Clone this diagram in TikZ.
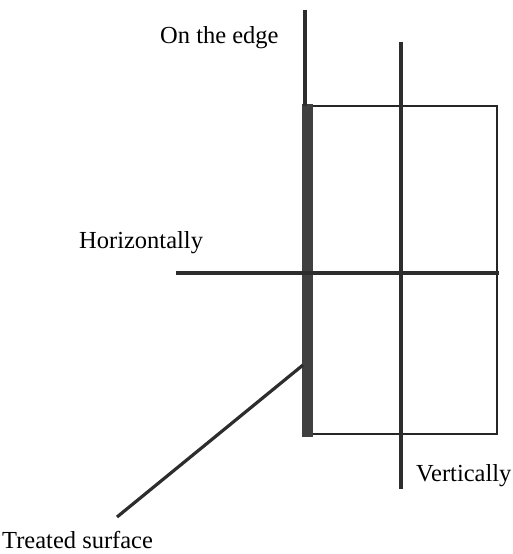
\documentclass[tikz,border=0pt]{standalone}
\usepackage{fontspec}
\setmainfont{Liberation Serif}
\usetikzlibrary{positioning}
\definecolor{barGray}{RGB}{64,64,64}
\definecolor{lineGray}{RGB}{45,45,45}
\tikzset{
    % axis labels
    axisLabel/.style={font=\fontsize{24.5}{29}\selectfont, inner sep=0pt, anchor=base west},
    %
    % lines
    axisLine/.style={draw=lineGray, line width=3.2pt},
    sampleFrame/.style={draw=black!85, line width=1.3pt},
    treatedBar/.style={fill=barGray}
}

\begin{document}
\begin{tikzpicture}[x=1pt, y=-1pt]
	\useasboundingbox (0,0) rectangle (513,554);

	%% sample
	\draw[sampleFrame] (303,106) rectangle (497,434);
	\fill[treatedBar] (302,104) rectangle (313,437);

	%% directions
	\coordinate (edgeTop) at (305,10);
	\coordinate (edgeEnd) at (305,106);
	\coordinate (vertTop) at (401,42);
	\coordinate (vertEnd) at (401,489);
	\coordinate (horizStart) at (176,273);
	\coordinate (horizEnd) at (499,273);
	\coordinate (surfPoint) at (303,365);
	\coordinate (surfEnd) at (117,517);

	\draw[axisLine] (edgeTop) -- (edgeEnd);
	\draw[axisLine] (vertTop) -- (vertEnd);
	\draw[axisLine] (horizStart) -- (horizEnd);
	\draw[axisLine] (surfPoint) -- (surfEnd);

	%% labels
	\node[axisLabel] (edge) at (160,43) {On the edge};
	\node[axisLabel] (horiz) at (79,248) {Horizontally};
	\node[axisLabel] (vert) at (416,481) {Vertically};
	\node[axisLabel] (treated) at (2,548) {Treated surface};

\end{tikzpicture}
\end{document}
